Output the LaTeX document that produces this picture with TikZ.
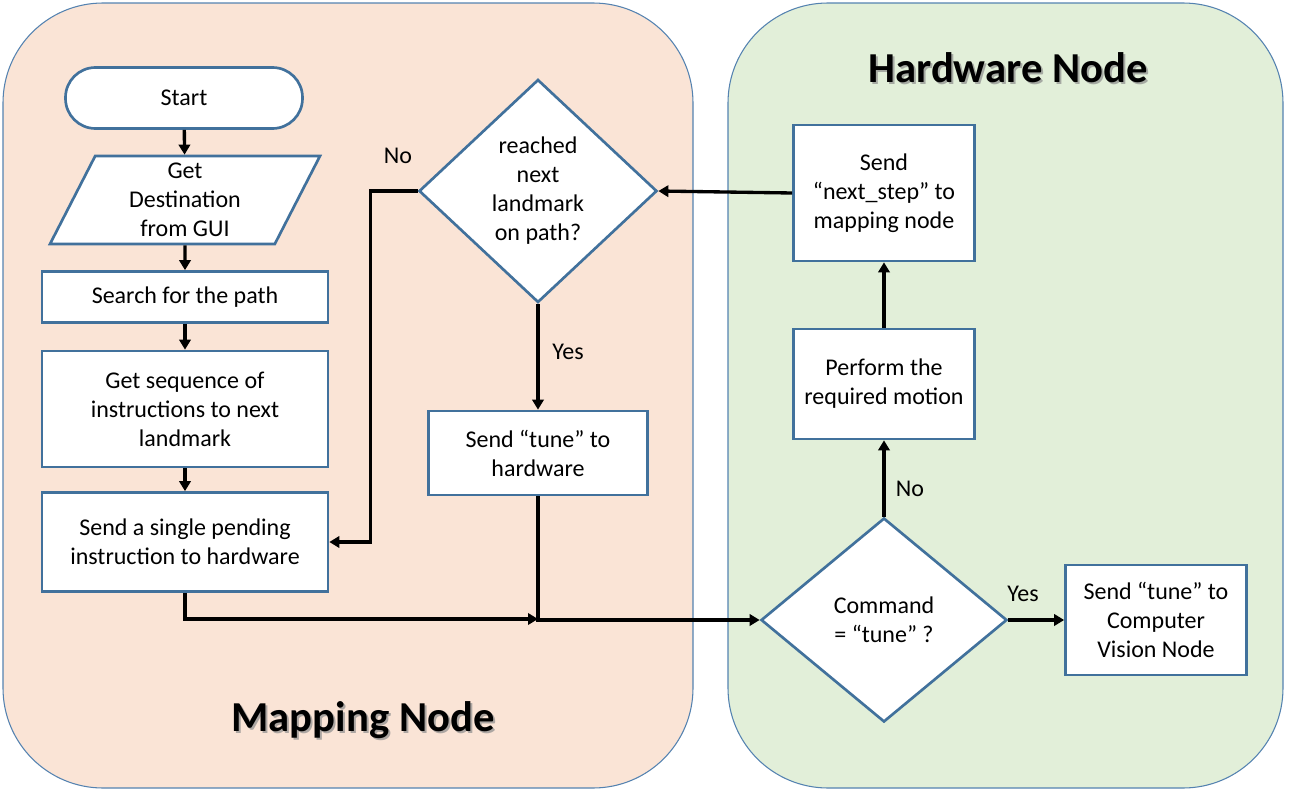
\documentclass[tikz,border=0pt]{standalone}
\usepackage{fontspec}
\setmainfont{Carlito}
\usetikzlibrary{arrows.meta,shapes.geometric}

\definecolor{mapfill}{RGB}{250,228,214}
\definecolor{hwfill}{RGB}{226,239,217}
\definecolor{boxline}{RGB}{65,113,156}
\definecolor{panelline}{RGB}{84,130,176}

\tikzset{
  panel/.style={draw=panelline,line width=0.8pt,rounded corners=75pt},
  flowbox/.style={draw=boxline,line width=2pt,fill=white,align=center,inner sep=2pt},
  decision/.style={flowbox,diamond,inner sep=0pt},
  flow/.style={line width=2.5pt,-{Triangle[length=7.5pt,width=8.5pt]}},
  paneltitle/.style={font=\fontsize{32}{36}\selectfont\bfseries},
  titleshadow/.style={paneltitle,text=black!45,opacity=0.7}
}

\begin{document}
\begin{tikzpicture}[x=0.75pt,y=-0.75pt,font=\fontsize{18}{21.75}\selectfont]
\useasboundingbox (0,0) rectangle (1290,796);
% the two panels
\draw[panel,fill=mapfill] (3,3) rectangle (693,788);
\draw[panel,fill=hwfill] (728,3) rectangle (1283,788);
\node[titleshadow] at (1010,70) {Hardware Node};
\node[paneltitle] (hwtitle) at (1008,68) {Hardware Node};
\node[titleshadow] at (365,722) {Mapping Node};
\node[paneltitle] (maptitle) at (363,720) {Mapping Node};

% mapping node
\node[flowbox,rounded corners=22.5pt,minimum width=177.75pt,minimum height=45.75pt] (start) at (184,98) {Start};
\node[flowbox,trapezium,trapezium left angle=58.5,trapezium right angle=121.5,trapezium stretches body,inner sep=0pt,minimum width=202.5pt,minimum height=66pt] (dest) at (185,200) {Get\\Destination\\from GUI};
\node[flowbox,minimum width=214.5pt,minimum height=38.25pt] (search) at (185,297) {Search for the path};
\node[flowbox,minimum width=214.5pt,minimum height=87pt] (seq) at (185,409) {Get sequence of\\instructions to next\\landmark};
\node[flowbox,minimum width=214.5pt,minimum height=74.25pt] (single) at (185,542) {Send a single pending\\instruction to hardware};
\node[decision,minimum width=178.5pt,minimum height=167.25pt] (reached) at (538,191) {reached\\next\\landmark\\on path?};
\node[flowbox,minimum width=164.25pt,minimum height=63pt] (tune) at (538,453) {Send “tune” to\\hardware};

% hardware node
\node[flowbox,minimum width=135.75pt,minimum height=102pt] (nextstep) at (884,193) {Send\\“next\_step” to\\mapping node};
\node[flowbox,minimum width=135.75pt,minimum height=82.5pt] (motion) at (884,384) {Perform the\\required motion};
\node[decision,minimum width=184.5pt,minimum height=153pt] (command) at (884,620) {Command\\= “tune” ?};
\node[flowbox,minimum width=135.75pt,minimum height=82.5pt] (vision) at (1156,620) {Send “tune” to\\Computer\\Vision Node};

\coordinate (join) at (538,619);

\draw[flow] (start) -- (dest);
\draw[flow] (dest) -- (search);
\draw[flow] (search) -- (seq);
\draw[flow] (seq) -- (single);
\draw[flow] (reached.west) -- ++(-47,0) |- (single.east);
\draw[flow] (reached) -- (tune);
\draw[flow] (single.south) |- (join);
\draw[flow] (tune.south) |- (command.west);
\draw[flow] (command) -- (motion);
\draw[flow] (motion) -- (nextstep);
\draw[flow] (nextstep.west) -- (reached.east);
\draw[flow] (command) -- (vision);

\node at (398,156) {No};
\node at (568,352) {Yes};
\node at (910,489) {No};
\node at (1023,594) {Yes};
\end{tikzpicture}
\end{document}
